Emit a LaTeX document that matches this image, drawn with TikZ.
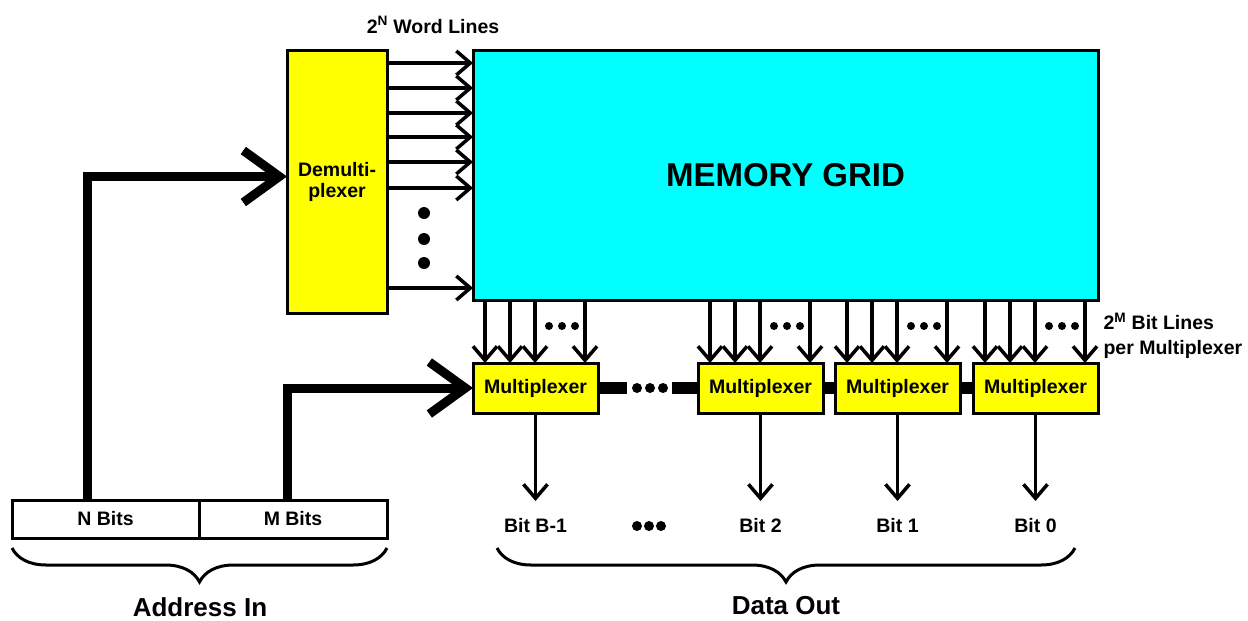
\documentclass[tikz,border=0pt]{standalone}
\usepackage{fontspec}
\setmainfont{Liberation Sans}
\usetikzlibrary{arrows.meta,calc,decorations.pathreplacing,positioning}
\definecolor{memcyan}{RGB}{0,255,255}
\definecolor{muxyellow}{RGB}{255,255,0}
\newcommand{\bitlines}[1]{%
  \foreach \off in {12,37,62,112}{\draw[wire] ([xshift=\off pt]#1.north west |- grid.south)
    -- ([xshift=\off pt]#1.north west);}
  \foreach \off in {76,89,102}{\fill ([xshift=\off pt]#1.north west |- 0,326) circle (4pt);}
}

\begin{document}
\begin{tikzpicture}[x=1pt,y=-1pt,
    txt/.style={font=\bfseries\fontsize{19.5}{21}\selectfont},
    bigtxt/.style={font=\bfseries\fontsize{26}{28}\selectfont},
    block/.style={draw,line width=3pt,txt,inner sep=0pt,outer sep=0pt},
    wire/.style={line width=3.5pt,-{Straight Barb[length=14pt,width=24pt]}},
    bigwire/.style={line width=9pt,-{Straight Barb[length=36pt,width=52pt]}},
    bus/.style={line width=12pt},
    brace/.style={decorate,line width=3pt,decoration={brace,mirror,amplitude=34pt}}]
  \useasboundingbox (0,0) rectangle (1248,621);
  % blocks
  \node[block,fill=muxyellow,minimum width=100pt,minimum height=263pt,align=center,
    anchor=north west] (demux) at (287,50) {Demulti-\\plexer};
  \node[block,fill=memcyan,minimum width=625pt,minimum height=250pt,anchor=north west,
    font=\bfseries\fontsize{33}{36}\selectfont] (grid) at (473,50) {MEMORY GRID};
  \foreach \i/\x in {1/473,2/698,3/835,4/973}
    \node[block,fill=muxyellow,minimum width=125pt,minimum height=50pt,
      anchor=north west] (mux\i) at (\x,363) {Multiplexer};
  \node[block,minimum width=187pt,minimum height=38pt,anchor=north west] (nbits) at (12,500) {N Bits};
  \node[block,minimum width=188pt,minimum height=38pt,anchor=west] (mbits) at (nbits.east) {M Bits};

  % word lines
  \foreach \y in {63,88,113,137,162,188,288}
    \draw[wire] (demux.east |- 0,\y) -- (grid.west |- 0,\y);
  \foreach \y in {213,239,263} \fill (424,\y) circle (6pt);
  \node[txt,anchor=base] (wordlbl) at (433,33) {2\textsuperscript{N} Word Lines};

  % bit lines
  \bitlines{mux1}
  \bitlines{mux2}
  \bitlines{mux3}
  \bitlines{mux4}
  \node[txt,anchor=west,align=left,font=\bfseries\fontsize{19.5}{25}\selectfont] (bitlbl)
    at (1100,336) {2\textsuperscript{M} Bit Lines\\per Multiplexer};

  % mux chain
  \draw[bus] (mux1.east) -- ++(29,0);
  \draw[bus] (mux2.west) -- ++(-26,0);
  \foreach \x in {637,650,663} \fill (\x,388) circle (5pt);
  \draw[bus] (mux2) -- (mux3);
  \draw[bus] (mux3) -- (mux4);

  % outputs
  \foreach \i/\t in {1/Bit B-1,2/Bit 2,3/Bit 1,4/Bit 0}{
    \node[txt,below=102pt of mux\i] (bit\i) {\t};
    \draw[wire] (mux\i) -- ([yshift=14pt]bit\i.north);
  }
  \foreach \x in {637,649,661} \fill (\x,526) circle (5pt);

  % address
  \draw[bigwire] ([xshift=-18pt]nbits.north) |- ([yshift=5pt]demux.west);
  \draw[bigwire] ([xshift=-6pt]mbits.north) |- (mux1.west);
  \draw[brace] ([yshift=-10pt]nbits.south west) -- ([yshift=-10pt]mbits.south east);
  \node[bigtxt] (addrin) at (200,607) {Address In};
  \draw[brace] (497,548) -- (1075,548);
  \node[bigtxt] (dataout) at (786,606) {Data Out};
\end{tikzpicture}
\end{document}
